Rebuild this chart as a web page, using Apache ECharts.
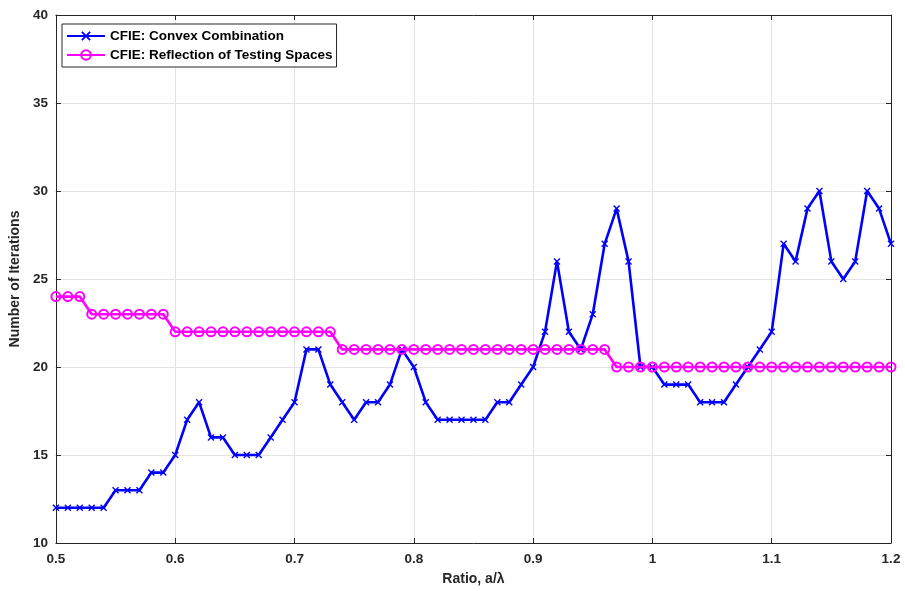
<!DOCTYPE html>
<html>
<head>
<meta charset="utf-8">
<script src="https://cdn.jsdelivr.net/npm/echarts@6/dist/echarts.min.js"></script>
<style>
  html, body { margin: 0; padding: 0; background: #fff; }
  #chart { width: 905px; height: 591px; }
</style>
</head>
<body>
<div id="chart"></div>
<script>
// Ratio a/lambda sampled every 0.01 from 0.50 to 1.20
const ratios = [
  0.50, 0.51, 0.52, 0.53, 0.54, 0.55, 0.56, 0.57, 0.58, 0.59,
  0.60, 0.61, 0.62, 0.63, 0.64, 0.65, 0.66, 0.67, 0.68, 0.69,
  0.70, 0.71, 0.72, 0.73, 0.74, 0.75, 0.76, 0.77, 0.78, 0.79,
  0.80, 0.81, 0.82, 0.83, 0.84, 0.85, 0.86, 0.87, 0.88, 0.89,
  0.90, 0.91, 0.92, 0.93, 0.94, 0.95, 0.96, 0.97, 0.98, 0.99,
  1.00, 1.01, 1.02, 1.03, 1.04, 1.05, 1.06, 1.07, 1.08, 1.09,
  1.10, 1.11, 1.12, 1.13, 1.14, 1.15, 1.16, 1.17, 1.18, 1.19,
  1.20
];

// Iteration counts, CFIE convex combination
const convexIters = [
  12, 12, 12, 12, 12, 13, 13, 13, 14, 14,
  15, 17, 18, 16, 16, 15, 15, 15, 16, 17,
  18, 21, 21, 19, 18, 17, 18, 18, 19, 21,
  20, 18, 17, 17, 17, 17, 17, 18, 18, 19,
  20, 22, 26, 22, 21, 23, 27, 29, 26, 20,
  20, 19, 19, 19, 18, 18, 18, 19, 20, 21,
  22, 27, 26, 29, 30, 26, 25, 26, 30, 29,
  27
];

// Iteration counts, CFIE with reflection of testing spaces
const reflectionIters = [
  24, 24, 24, 23, 23, 23, 23, 23, 23, 23,
  22, 22, 22, 22, 22, 22, 22, 22, 22, 22,
  22, 22, 22, 22, 21, 21, 21, 21, 21, 21,
  21, 21, 21, 21, 21, 21, 21, 21, 21, 21,
  21, 21, 21, 21, 21, 21, 21, 20, 20, 20,
  20, 20, 20, 20, 20, 20, 20, 20, 20, 20,
  20, 20, 20, 20, 20, 20, 20, 20, 20, 20,
  20
];

const seriesNames = ['CFIE: Convex Combination', 'CFIE: Reflection of Testing Spaces'];
const xTicks = { min: 0.5, max: 1.2, step: 0.1 };
const yTicks = { min: 10, max: 40, step: 5 };

const pairs = (ys) => ratios.map((x, i) => [x, ys[i]]);

const FONT = 'Liberation Sans, Arial, sans-serif';
const AXIS_COLOR = '#262626';
const GRID_COLOR = '#e3e3e3';
const crossPath = 'path://M0,1.4L1.4,0L5,3.6L8.6,0L10,1.4L6.4,5L10,8.6L8.6,10L5,6.4L1.4,10L0,8.6L3.6,5Z';

const chart = echarts.init(document.getElementById('chart'), null, { renderer: 'canvas' });

const baseAxis = {
  axisLine: { show: true, onZero: false, lineStyle: { color: AXIS_COLOR, width: 1 } },
  axisTick: { show: true, inside: true, length: 5, lineStyle: { color: AXIS_COLOR } },
};

chart.setOption({
  animation: false,
  backgroundColor: '#fff',
  textStyle: { fontFamily: FONT },
  grid: { left: 54, right: 14, top: 15, bottom: 46, containLabel: false },
  legend: {
    orient: 'vertical',
    left: 62,
    top: 24,
    padding: [5, 4, 5, 4],
    itemGap: 5,
    itemWidth: 38,
    itemHeight: 12,
    backgroundColor: '#fff',
    borderColor: '#262626',
    borderWidth: 1,
    borderRadius: 0,
    textStyle: { fontFamily: FONT, fontWeight: 'bold', fontSize: 13.5, color: '#000' },
    data: seriesNames
  },
  xAxis: [
    Object.assign({}, baseAxis, {
      type: 'value',
      position: 'bottom',
      min: xTicks.min, max: xTicks.max, interval: xTicks.step,
      name: 'Ratio, a/\u03bb',
      nameLocation: 'middle',
      nameGap: 29,
      nameTextStyle: { fontFamily: FONT, fontWeight: 'bold', fontSize: 14, color: '#262626' },
      axisLabel: {
        margin: 9, fontFamily: FONT, fontWeight: 'bold', fontSize: 13.5, color: '#262626',
        formatter: (v) => String(parseFloat(v.toFixed(2)))
      },
      splitLine: { show: true, lineStyle: { color: GRID_COLOR, width: 1 } }
    }),
    Object.assign({}, baseAxis, {
      type: 'value',
      position: 'top',
      min: xTicks.min, max: xTicks.max, interval: xTicks.step,
      axisLabel: { show: false },
      splitLine: { show: false }
    })
  ],
  yAxis: [
    Object.assign({}, baseAxis, {
      type: 'value',
      position: 'left',
      min: yTicks.min, max: yTicks.max, interval: yTicks.step,
      name: 'Number of Iterations',
      nameLocation: 'middle',
      nameGap: 28,
      nameTextStyle: { fontFamily: FONT, fontWeight: 'bold', fontSize: 14, color: '#262626' },
      axisLabel: { margin: 8, fontFamily: FONT, fontWeight: 'bold', fontSize: 13.5, color: '#262626' },
      splitLine: { show: true, lineStyle: { color: GRID_COLOR, width: 1 } }
    }),
    Object.assign({}, baseAxis, {
      type: 'value',
      position: 'right',
      min: yTicks.min, max: yTicks.max, interval: yTicks.step,
      axisLabel: { show: false },
      splitLine: { show: false }
    })
  ],
  series: [
    {
      name: seriesNames[0],
      type: 'line',
      data: pairs(convexIters),
      symbol: crossPath,
      symbolSize: 7,
      showAllSymbol: true,
      lineStyle: { color: '#0000ff', width: 2.6 },
      itemStyle: { color: '#0000ff' },
      z: 2
    },
    {
      name: seriesNames[1],
      type: 'line',
      data: pairs(reflectionIters),
      symbol: 'circle',
      symbolSize: 9,
      showAllSymbol: true,
      lineStyle: { color: '#ff00ff', width: 2.6 },
      itemStyle: { color: 'rgba(255,255,255,0)', borderColor: '#ff00ff', borderWidth: 2 },
      z: 3
    }
  ]
});
</script>
</body>
</html>
